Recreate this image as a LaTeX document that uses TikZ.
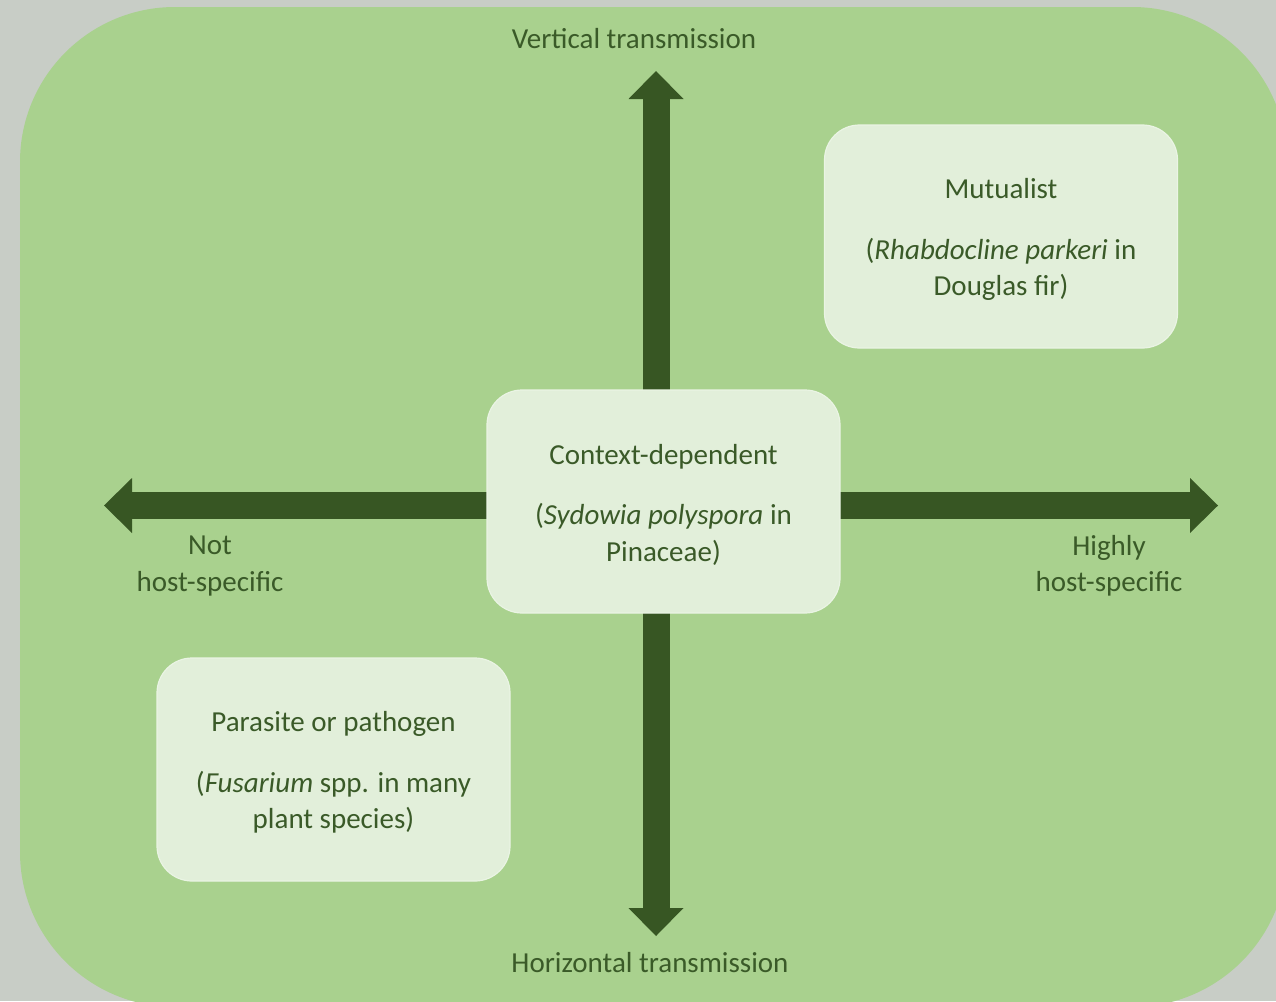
\documentclass[tikz,border=0pt]{standalone}
\usepackage{fontspec}
\setmainfont{Carlito}
\usetikzlibrary{arrows.meta}
\definecolor{bgphoto}{HTML}{C8CDC6}
\definecolor{panel}{HTML}{A9D18E}
\definecolor{boxfill}{HTML}{E2EFDA}
\definecolor{boxedge}{HTML}{EAF4E4}
\definecolor{dkgreen}{HTML}{375623}
\definecolor{txtgreen}{HTML}{3A5A28}
\tikzset{
  bigarrow/.style={draw=dkgreen, line width=27pt,
    {Triangle[width=55pt,length=28pt,line width=0pt,fill=dkgreen]}-{Triangle[width=55pt,length=28pt,line width=0pt,fill=dkgreen]}},
  infobox/.style={rectangle, rounded corners=35pt, fill=boxfill, draw=boxedge, line width=1.2pt,
    minimum width=353pt, minimum height=223pt, inner sep=0pt},
  boxtext/.style={align=center, text=txtgreen, inner sep=0pt},
  axislabel/.style={align=center, text=txtgreen, inner sep=0pt}
}
\begin{document}
\begin{tikzpicture}[x=1pt,y=-1pt,font=\fontsize{29}{36.5}\selectfont]
\useasboundingbox (0,0) rectangle (1276,1001);
\clip (0,0) rectangle (1276,1001);
\fill[bgphoto] (0,0) rectangle (1276,1001);
\fill[panel, rounded corners=155pt] (20,7) rectangle (1287,1007);
% arrow end points
\coordinate (top) at (656,71);
\coordinate (bottom) at (656,936);
\coordinate (left) at (104,505.5);
\coordinate (right) at (1218,505.5);
\draw[bigarrow] (bottom) -- (top);
\draw[bigarrow] (left) -- (right);
% boxes
\node[infobox] (ctx) at (663.5,501.5) {};
\node[boxtext] (ctxt) at ([yshift=-3pt]ctx.center) {Context-dependent\\[24pt](\textit{Sydowia polyspora} in\\Pinaceae)};
\node[infobox] (mut) at (1001,236.5) {};
\node[boxtext] (mutt) at ([yshift=-3pt]mut.center) {Mutualist\\[24pt](\textit{Rhabdocline parkeri} in\\Douglas fir)};
\node[infobox] (par) at (333.5,769.5) {};
\node[boxtext] (part) at ([yshift=-3pt]par.center) {Parasite or pathogen\\[24pt](\textit{Fusarium} spp. in many\\plant species)};
% axis labels
\node[axislabel] (vt) at (634,39) {Vertical transmission};
\node[axislabel] (ht) at (650,963) {Horizontal transmission};
\node[axislabel] (nhs) at (210,566) {Not\\host-specific};
\node[axislabel] (hhs) at (1109,566) {Highly\\host-specific};
\end{tikzpicture}
\end{document}
